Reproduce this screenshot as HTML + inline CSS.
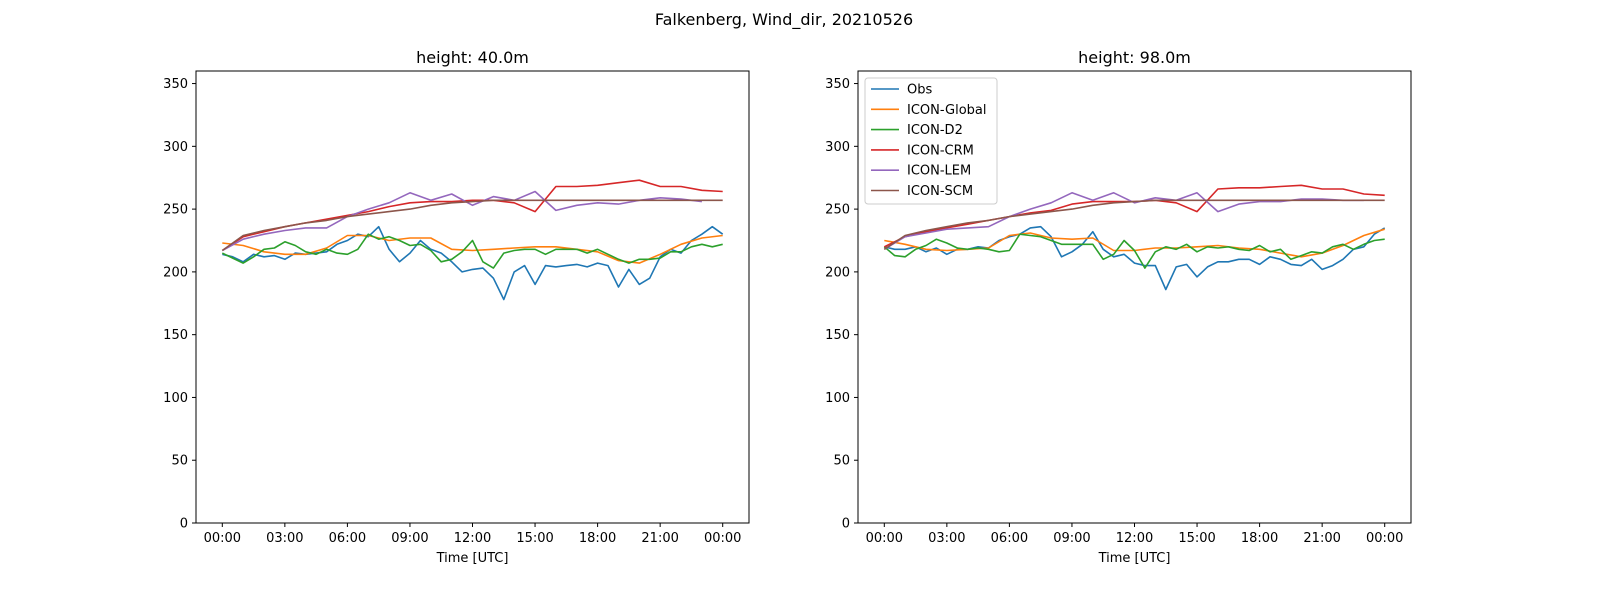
<!DOCTYPE html>
<html><head><meta charset="utf-8">
<style>
body{margin:0;background:#fff;width:1600px;height:600px;overflow:hidden;font-family:"Liberation Sans","DejaVu Sans",sans-serif}
svg text{font-family:"DejaVu Sans","Liberation Sans",sans-serif}
</style></head>
<body>
<svg id="chart" width="1600" height="600" xmlns="http://www.w3.org/2000/svg">
<rect width="1600" height="600" fill="#fff"/>
<text x="784" y="25" font-size="16" text-anchor="middle">Falkenberg, Wind_dir, 20210526</text>
</svg>
<script>
const xTickLabels=["00:00","03:00","06:00","09:00","12:00","15:00","18:00","21:00","00:00"];
const yTicks=[0,50,100,150,200,250,300,350];
const seriesNames=["Obs","ICON-Global","ICON-D2","ICON-CRM","ICON-LEM","ICON-SCM"];
const colors=["#1f77b4","#ff7f0e","#2ca02c","#d62728","#9467bd","#8c564b"];
const panelTitles=["height: 40.0m","height: 98.0m"];
// left panel (40m)
const obs40=[214,212,208,214,212,213,210,215,214,215,216,222,225,230,228,236,218,208,215,225,218,215,208,200,202,203,195,178,200,205,190,205,204,205,206,204,207,205,188,202,190,195,212,218,215,225,230,236,230];
const global40=[223,221,216,214,214,219,229,229,225,227,227,218,217,218,219,220,220,218,216,209,207,214,222,227,229];
const d240=[215,211,207,212,218,219,224,221,216,214,218,215,214,218,230,226,228,225,221,222,217,208,210,216,225,208,203,215,217,218,218,214,218,218,218,215,218,214,210,207,210,210,211,216,216,220,222,220,222];
const crm40=[217,228,232,236,239,242,245,248,252,255,256,256,257,257,255,248,268,268,269,271,273,268,268,265,264];
const lem40=[217,226,230,233,235,235,244,250,255,263,257,262,253,260,257,264,249,253,255,254,257,259,258,256];
const scm40=[217,229,233,236,239,241,244,246,248,250,253,255,256,257,257,257,257,257,257,257,257,257,257,257,257];
// right panel (98m)
const obs98=[220,218,218,220,216,219,214,218,218,220,219,225,228,230,235,236,228,212,216,222,232,218,212,214,207,205,205,186,204,206,196,204,208,208,210,210,206,212,210,206,205,210,202,205,210,218,220,230,235];
const global98=[225,222,218,217,218,219,229,231,227,226,227,217,217,219,219,220,221,219,218,215,212,215,221,229,234];
const d298=[220,213,212,218,221,226,223,219,218,219,218,216,217,230,229,228,225,222,222,222,222,210,214,225,217,203,216,220,218,222,216,220,219,220,218,217,221,216,218,210,213,216,215,220,222,218,222,225,226];
const crm98=[220,228,232,235,238,241,244,247,249,254,256,256,256,257,255,248,266,267,267,268,269,266,266,262,261];
const lem98=[218,228,231,234,235,236,244,250,255,263,257,263,255,259,257,263,248,254,256,256,258,258,257,257];
const scm98=[218,229,233,236,239,241,244,246,248,250,253,255,256,257,257,257,257,257,257,257,257,257,257,257,257];
const panels=[[obs40,global40,d240,crm40,lem40,scm40],[obs98,global98,d298,crm98,lem98,scm98]];
const seriesHours=[24,24,24,24,23,24];

const NS="http://www.w3.org/2000/svg";
const svg=document.getElementById('chart');
function mk(tag,attrs,parent){const e=document.createElementNS(NS,tag);for(const k in attrs)e.setAttribute(k,attrs[k]);(parent||svg).appendChild(e);return e;}
const yTop=71,yBot=523,yMax=360;
panels.forEach((data,p)=>{
  const L=p?858:196,R=p?1411:749;
  const x0=L+26.3,x1=R-26.3;
  const xs=h=>x0+(x1-x0)*h/24;
  const ys=v=>yBot-(yBot-yTop)*v/yMax;
  const g=mk('g',{});
  
  
  const t=mk('text',{x:(L+R)/2,y:yTop-8,'font-size':16,'text-anchor':'middle'},g);
  t.textContent=panelTitles[p];
  
  
  yTicks.forEach(v=>{
    const y=ys(v);
    mk('line',{x1:L-4,x2:L,y1:y,y2:y,stroke:'#000','stroke-width':1},g);
    const tl=mk('text',{x:L-8,y:y+4.5,'font-size':13,'text-anchor':'end'},g);
    tl.textContent=v;
    
    
  });
  xTickLabels.forEach((s,i)=>{
    const x=xs(i*3);
    mk('line',{x1:x,x2:x,y1:yBot,y2:yBot+4,stroke:'#000','stroke-width':1},g);
    const tl=mk('text',{x:x,y:yBot+19,'font-size':13,'text-anchor':'middle'},g);
    tl.textContent=s;
    
    
  });
  const xt=mk('text',{x:(L+R)/2,y:yBot+39,'font-size':13,'text-anchor':'middle'},g);
  xt.textContent='Time [UTC]';
  
  
  data.forEach((arr,s)=>{
    const n=arr.length,H=seriesHours[s];
    const pts=arr.map((v,i)=>xs(i*H/(n-1)).toFixed(1)+','+ys(v).toFixed(1)).join(' ');
    const pl=mk('polyline',{points:pts,fill:'none',stroke:colors[s],'stroke-width':1.6,'stroke-linejoin':'round'},g);
    
    
  });
  const fr=mk('rect',{x:L,y:yTop,width:R-L,height:yBot-yTop,fill:'none',stroke:'#000','stroke-width':1},g);
  
  
  if(p===1){
    const lg=mk('g',{},g);
    
    
    mk('rect',{x:865,y:78,width:132,height:126,rx:3,fill:'#fff',stroke:'#ccc','stroke-width':1},lg);
    seriesNames.forEach((nm,s)=>{
      const y=89+s*20.3;
      const e=mk('g',{},lg);
      
      
      mk('line',{x1:871,x2:899,y1:y,y2:y,stroke:colors[s],'stroke-width':1.6},e);
      const tx=mk('text',{x:907,y:y+4.5,'font-size':13},e);
      tx.textContent=nm;
    });
  }
});
</script>
</body></html>
